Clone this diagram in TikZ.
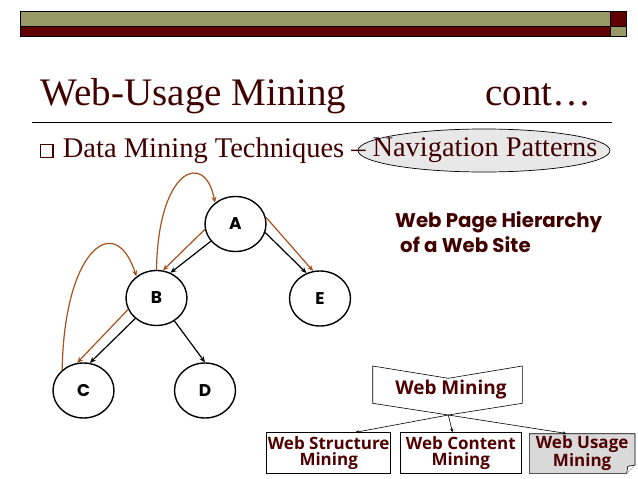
\documentclass[tikz,border=0pt]{standalone}
\usepackage{fontspec}
\setmainfont{Liberation Serif}
\newfontfamily\gothic{Poppins}
\newfontfamily\comicf{Open Sans}
\usetikzlibrary{shapes.geometric,arrows.meta}
\definecolor{barolive}{RGB}{153,153,102}
\definecolor{barred}{RGB}{96,0,0}
\definecolor{txtred}{RGB}{64,0,0}
\definecolor{boxtxt}{RGB}{80,0,0}
\definecolor{brnarrow}{RGB}{165,82,30}
\definecolor{npgray}{RGB}{232,232,232}
\definecolor{usegray}{RGB}{217,217,217}
\tikzset{
  gnode/.style={ellipse, draw, line width=1.4pt, minimum width=61pt, minimum height=55pt, inner sep=0pt,
    font=\gothic\bfseries\fontsize{17}{17}\selectfont},
  blk/.style={line width=1.2pt, -{Stealth[length=6pt,width=5pt]}},
  brn/.style={line width=1.2pt, brnarrow, -{Stealth[length=6pt,width=5pt]}},
  wbox/.style={rectangle, inner sep=0pt, align=center, text=boxtxt,
    font=\comicf\bfseries\fontsize{17}{16.7}\selectfont},
  thinarrow/.style={line width=0.6pt, -{Stealth[length=4pt,width=3pt]}},
  serif/.style={anchor=base west, inner sep=0pt, text=txtred}
}
\begin{document}
\begin{tikzpicture}[x=1pt,y=-1pt]
\useasboundingbox (0,0) rectangle (638,479);
% top bar
\fill[barolive] (20,11) rectangle (610,26);
\fill[barred] (20,26) rectangle (610,36);
\fill[barred] (610,11) rectangle (626,26);
\fill[barolive] (610,26) rectangle (626,36);
\draw[line width=0.8pt] (20,11) rectangle (626,36);
\draw[line width=0.8pt] (20,26) -- (626,26) (610,11) -- (610,36);
% title
\node[serif, font=\fontsize{39}{41}\selectfont] (title) at (40.7,105) {Web-Usage Mining};
\node[serif, font=\fontsize{39}{41}\selectfont] (cont) at (485,105) {cont…};
\draw[line width=0.9pt] (31.7,122.3) -- (611.7,122.3);
% bullet
\draw[txtred, line width=1.1pt] (40.5,144.5) rectangle (53,157.5);
\draw[line width=0.7pt, fill=npgray] (484,150.5) ellipse [x radius=126, y radius=21.5];
\node[inner sep=0pt, font=\fontsize{28.4}{30}\selectfont, text=txtred] (np) at (485,150.5) {Navigation Patterns};
\node[serif, font=\fontsize{28.5}{30}\selectfont] (dmt) at (62.7,157) {Data Mining Techniques –};
% graph
\node[gnode] (A) at (235.5,224) {A};
\node[gnode] (B) at (156.5,298) {B};
\node[gnode] (E) at (320,298.5) {E};
\node[gnode] (C) at (83.5,390.5) {C};
\node[gnode] (D) at (205,390.5) {D};
\draw[blk] (A.215) -- (B.61);
\draw[blk] (A.344) -- (E.118);
\draw[blk] (B.224) -- (C.77);
\draw[blk] (B.308) -- (D.90);
\draw[brn] (A.190) -- (B.77);
\draw[brn] (A.13) -- (E.104);
\draw[brn] (B.202) -- (C.103);
\draw[brn] (B.north) .. controls (158,168) and (205,150) .. (A.134);
\draw[brn] (C.136) .. controls (64,250) and (115,210) .. (B.133);
% right text
\node[serif, font=\gothic\bfseries\fontsize{19.8}{20}\selectfont] (wph1) at (395,227) {Web Page Hierarchy};
\node[serif, font=\gothic\bfseries\fontsize{19.8}{20}\selectfont] (wph2) at (400,252) {of a Web Site};
% web mining
\draw[line width=0.6pt] (372.7,366) -- (448.3,378.3) -- (522.3,366) -- (522.3,403.3) -- (448.3,415) -- (372.7,403.3) -- cycle;
\node[wbox, font=\comicf\bfseries\fontsize{19}{19}\selectfont] (wm) at (451,390) {Web Mining};
\coordinate (wmtip) at (448.3,415);
\filldraw[fill=usegray, line width=0.6pt] (529.3,433.7) -- (635,433.7) -- (635,465) -- (626.7,473.3) -- (529.3,473.3) -- cycle;
\filldraw[fill=white, line width=0.6pt] (635,465) -- (627.8,466.3) -- (626.7,473.3);
\node[wbox, draw, line width=0.6pt, minimum width=124pt, minimum height=40.6pt] (ws) at (328.7,453) {Web Structure\\Mining};
\node[wbox, draw, line width=0.6pt, minimum width=121.7pt, minimum height=40.6pt] (wc) at (460.85,453) {Web Content\\Mining};
\node[wbox, minimum width=105.7pt, minimum height=39.6pt] (wu) at (582.15,453.5) {Web Usage\\Mining};
\draw[thinarrow] (wmtip) -- (ws.38);
\draw[thinarrow] (wmtip) -- (wc.112);
\draw[thinarrow] (wmtip) -- (wu.128);
\end{tikzpicture}
\end{document}
